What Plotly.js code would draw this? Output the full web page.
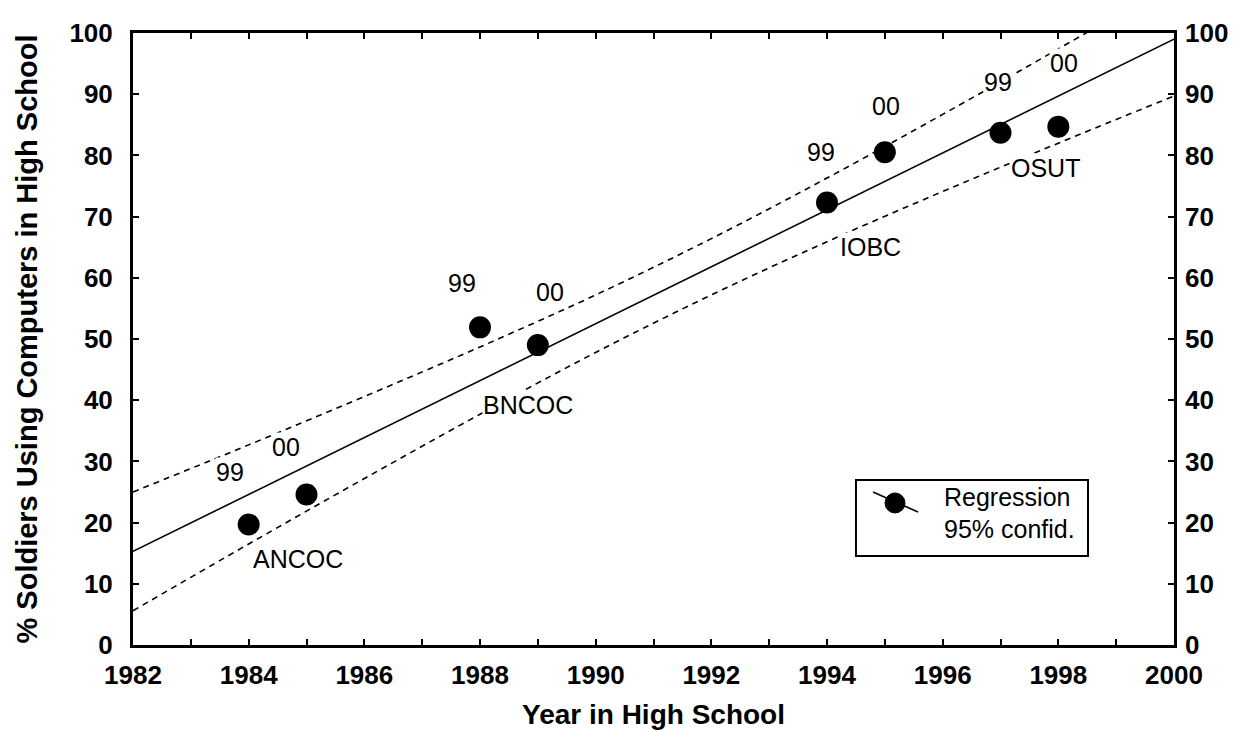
<!DOCTYPE html>
<html>
<head>
<meta charset="utf-8">
<script src="https://cdn.plot.ly/plotly-3.0.1.min.js"></script>
<style>html,body{margin:0;padding:0;background:#fff;}#chart{width:1248px;height:730px;}</style>
</head>
<body>
<div id="chart"></div>
<script>
// Observed points
const years = [1984, 1985, 1988, 1989, 1994, 1995, 1997, 1998];
const pct = [19.7, 24.6, 51.9, 49.0, 72.3, 80.5, 83.7, 84.7];
const surveyLabels = ['99', '00', '99', '00', '99', '00', '99', '00'];
const courseLabels = ['ANCOC', 'BNCOC', 'IOBC', 'OSUT'];

// Regression line and 95% confidence band
const fitYears = [1982, 1984, 1986, 1988, 1990, 1992, 1994, 1996, 1998, 2000];
const regression = [15.3, 24.6, 33.9, 43.2, 52.5, 61.8, 71.1, 80.4, 89.7, 99.0];
const upper95 = [25.0, 32.7, 40.6, 48.7, 57.2, 66.4, 76.3, 86.7, 97.4, 108.3];
const lower95 = [5.6, 16.5, 27.2, 37.7, 47.8, 57.2, 65.9, 74.1, 82.0, 89.7];

// Axis ticks
const xTicks = [1982, 1984, 1986, 1988, 1990, 1992, 1994, 1996, 1998, 2000];
const yTicks = [0, 10, 20, 30, 40, 50, 60, 70, 80, 90, 100];

const FONT = 'Liberation Sans, Arial, Helvetica, sans-serif';

const traces = [
  {x: fitYears, y: upper95, mode: 'lines', line: {color: '#000', width: 1.6, dash: '6px,5px', shape: 'spline'}, showlegend: false, hoverinfo: 'skip'},
  {x: fitYears, y: lower95, mode: 'lines', line: {color: '#000', width: 1.6, dash: '6px,5px', shape: 'spline'}, showlegend: false, hoverinfo: 'skip'},
  {x: fitYears, y: regression, mode: 'lines', line: {color: '#000', width: 1.6}, showlegend: false},
  {x: years, y: pct, mode: 'markers', marker: {color: '#000', size: 22}, showlegend: false, cliponaxis: false},
  {x: [], y: [], yaxis: 'y2', showlegend: false}
];

// Text labels beside the points
const labelPos = [
  [1983.67, 28.3, surveyLabels[0]], [1984.65, 32.4, surveyLabels[1]],
  [1987.69, 59.2, surveyLabels[2]], [1989.21, 57.7, surveyLabels[3]],
  [1993.90, 80.6, surveyLabels[4]], [1995.02, 88.1, surveyLabels[5]],
  [1996.96, 92.0, surveyLabels[6]], [1998.09, 95.1, surveyLabels[7]],
  [1984.86, 14.1, courseLabels[0]], [1988.83, 39.2, courseLabels[1]],
  [1994.75, 65.0, courseLabels[2]], [1997.78, 77.9, courseLabels[3]]
];
const annotations = labelPos.map(p => ({
  x: p[0], y: p[1], text: p[2], showarrow: false, xref: 'x', yref: 'y',
  font: {family: FONT, size: 25, color: '#000'}, xanchor: 'center', yanchor: 'middle',
  bgcolor: '#fff', borderpad: 0
}));
// legend text
annotations.push({xref: 'paper', yref: 'paper', x: 0.7771, y: 0.2418, text: 'Regression', showarrow: false,
  xanchor: 'left', yanchor: 'middle', font: {family: FONT, size: 25, color: '#000'}});
annotations.push({xref: 'paper', yref: 'paper', x: 0.7771, y: 0.1895, text: '95% confid.', showarrow: false,
  xanchor: 'left', yanchor: 'middle', font: {family: FONT, size: 25, color: '#000'}});

const shapes = [
  {type: 'rect', xref: 'paper', yref: 'paper', x0: 0.6945, x1: 0.9174, y0: 0.1454, y1: 0.2696,
   line: {color: '#000', width: 2}, fillcolor: '#fff', layer: 'above'},
  {type: 'line', xref: 'paper', yref: 'paper', x0: 0.7109, y0: 0.2500, x1: 0.7541, y1: 0.2173,
   line: {color: '#000', width: 1.6}, layer: 'above'},
  {type: 'circle', xref: 'paper', yref: 'paper', x0: 0.7224, x1: 0.7416, y0: 0.2157, y1: 0.2484,
   line: {color: '#000', width: 1}, fillcolor: '#000', layer: 'above'}
];

const tickFont = {family: FONT, size: 26, color: '#000', weight: 'bold'};

const layout = {
  width: 1248, height: 730,
  margin: {l: 133, r: 74, t: 33, b: 85},
  paper_bgcolor: '#fff', plot_bgcolor: '#fff',
  showlegend: false,
  font: {family: FONT, color: '#000'},
  xaxis: {
    range: [1982, 2000], tickvals: xTicks, ticktext: xTicks.map(String),
    ticks: 'inside', ticklen: 6, tickwidth: 2, tickcolor: '#000',
    minor: {dtick: 1, tick0: 1982, ticks: 'inside', ticklen: 6, tickwidth: 2, tickcolor: '#000'},
    showline: true, linecolor: '#000', linewidth: 3, mirror: 'ticks',
    showgrid: false, zeroline: false, tickfont: tickFont, ticklabelstandoff: 5,
    title: {text: 'Year in High School', font: {family: FONT, size: 28, color: '#000', weight: 'bold'}, standoff: 20},
    automargin: false
  },
  yaxis: {
    range: [0, 100], tickvals: yTicks, ticktext: yTicks.map(String),
    ticks: 'inside', ticklen: 6, tickwidth: 2, tickcolor: '#000',
    showline: true, linecolor: '#000', linewidth: 3, mirror: true,
    showgrid: false, zeroline: false, tickfont: tickFont, ticklabelstandoff: 12,
    title: {text: '% Soldiers Using Computers in High School', font: {family: FONT, size: 29, color: '#000', weight: 'bold'}, standoff: 24},
    automargin: false
  },
  yaxis2: {
    overlaying: 'y', side: 'right', matches: 'y', range: [0, 100],
    tickvals: yTicks, ticktext: yTicks.map(String),
    ticks: 'inside', ticklen: 6, tickwidth: 2, tickcolor: '#000',
    showline: false, showgrid: false, zeroline: false, tickfont: tickFont, ticklabelstandoff: 10,
    automargin: false
  },
  annotations: annotations,
  shapes: shapes
};

Plotly.newPlot('chart', traces, layout, {staticPlot: true, displayModeBar: false});
</script>
</body>
</html>
